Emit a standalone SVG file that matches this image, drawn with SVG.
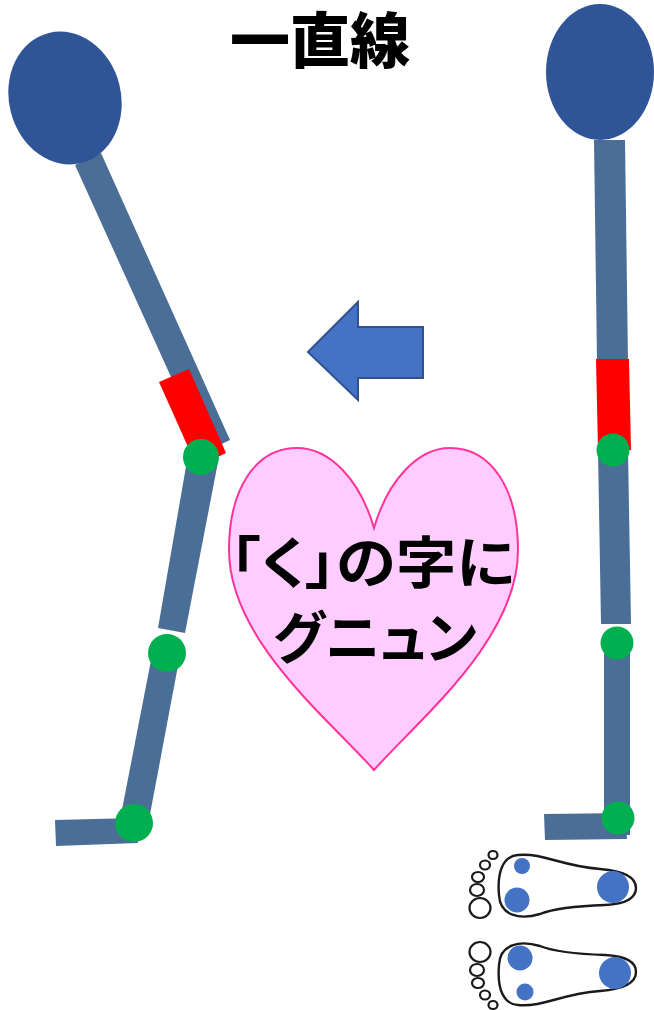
<svg xmlns="http://www.w3.org/2000/svg" width="654" height="1010" viewBox="0 0 654 1010">
  <style>
    .limb { fill: #4B6E96; }
    .head { fill: #2F5597; }
    .strain { fill: #FF0000; }
    .joint { fill: #00B050; }
    .title { font-family: "Liberation Sans", "Noto Sans CJK JP", sans-serif; font-weight: 900; font-size: 60px; fill: #000; }
    .msg { font-family: "Noto Sans CJK JP", "Noto Sans", sans-serif; font-weight: 700; font-size: 56px; fill: #000; font-feature-settings: "palt"; }
    .sole { fill: #fff; stroke: #1a1a1a; stroke-width: 2.4; }
    .toe { fill: #fff; stroke: #1a1a1a; stroke-width: 2.2; }
    .pad { fill: #4472C4; }
  </style>

  <rect width="654" height="1010" fill="#ffffff"/>

  <!-- title -->
  <g id="title">
    <text class="title" x="320" y="63" text-anchor="middle">一直線</text>
  </g>

  <!-- bent posture (left) -->
  <g id="bent-figure">
    <polygon class="limb" points="75,165 101,153 230,440 205,452"/>
    <polygon class="strain" points="159,382 189,369 226,453 197,467"/>
    <polygon class="limb" points="188,455 218,462 185,633 158,628"/>
    <polygon class="limb" points="153,650 180,655 148,825 120,820"/>
    <polygon class="limb" points="55,820 135,818 138,843 56,846"/>
    <ellipse class="head" cx="65" cy="98" rx="56" ry="67" transform="rotate(-14 65 98)"/>
    <circle class="joint" cx="201" cy="457" r="18"/>
    <circle class="joint" cx="167" cy="653" r="19"/>
    <circle class="joint" cx="134" cy="823" r="19"/>
  </g>

  <!-- straight posture (right) -->
  <g id="straight-figure">
    <polygon class="limb" points="594,140 625,140 628,362 597,362"/>
    <polygon class="strain" points="596,359 629,359 631,450 598,450"/>
    <polygon class="limb" points="598,450 628,450 631,624 601,624"/>
    <polygon class="limb" points="604,643 630,643 630,835 604,835"/>
    <polygon class="limb" points="544,814 625,813 627,839 545,840"/>
    <ellipse class="head" cx="600" cy="72" rx="54" ry="68"/>
    <circle class="joint" cx="613" cy="450" r="16.5"/>
    <circle class="joint" cx="617" cy="643" r="16.5"/>
    <circle class="joint" cx="618" cy="818" r="16.5"/>
  </g>

  <!-- direction arrow -->
  <g id="connectors">
    <polygon points="308,352 358,302 358,327 423,327 423,378 358,378 358,400" fill="#4472C4" stroke="#2F528F" stroke-width="2" stroke-linejoin="miter"/>
  </g>

  <!-- heart callout -->
  <g id="heart">
    <path d="M374,528 C360,480 330,448 297,448 C255,448 229,490 229,550 C229,640 330,720 374,770 C418,720 518,640 518,550 C518,490 492,448 450,448 C418,448 388,480 374,528 Z" fill="#FFCCFF" stroke="#FF3399" stroke-width="2"/>
    <text class="msg" x="230" y="583" textLength="285" lengthAdjust="spacingAndGlyphs">「く」の字に</text>
    <text class="msg" x="273" y="658" textLength="204" lengthAdjust="spacingAndGlyphs">グニュン</text>
  </g>

  <!-- footprints with pressure points -->
  <g id="footprints">
    <g id="foot-top">
      <path class="sole" d="M518,855 C545,853 560,866 600,869 C625,871 636,878 636,888 C636,898 625,904 605,905 C575,906 555,908 540,914 C520,920 500,916 499,895 C497,872 503,856 518,855 Z"/>
      <ellipse class="toe" cx="480" cy="908" rx="10.5" ry="10"/>
      <ellipse class="toe" cx="477" cy="890" rx="7" ry="6"/>
      <ellipse class="toe" cx="478" cy="877" rx="6" ry="5"/>
      <ellipse class="toe" cx="485" cy="865" rx="5" ry="4.5"/>
      <ellipse class="toe" cx="493" cy="855" rx="4.5" ry="4"/>
      <circle class="pad" cx="522" cy="866" r="8"/>
      <circle class="pad" cx="517" cy="900" r="12.5"/>
      <circle class="pad" cx="613" cy="887" r="16"/>
    </g>
    <g id="foot-bottom" transform="translate(0 1860) scale(1 -1)">
      <path class="sole" d="M518,855 C545,853 560,866 600,869 C625,871 636,878 636,888 C636,898 625,904 605,905 C575,906 555,908 540,914 C520,920 500,916 499,895 C497,872 503,856 518,855 Z"/>
      <ellipse class="toe" cx="480" cy="908" rx="10.5" ry="10"/>
      <ellipse class="toe" cx="477" cy="890" rx="7" ry="6"/>
      <ellipse class="toe" cx="478" cy="877" rx="6" ry="5"/>
      <ellipse class="toe" cx="485" cy="865" rx="5" ry="4.5"/>
      <ellipse class="toe" cx="493" cy="855" rx="4.5" ry="4"/>
      <circle class="pad" cx="525" cy="868" r="8.5"/>
      <circle class="pad" cx="520" cy="902" r="12.5"/>
      <circle class="pad" cx="615" cy="887" r="16"/>
    </g>
  </g>
</svg>
